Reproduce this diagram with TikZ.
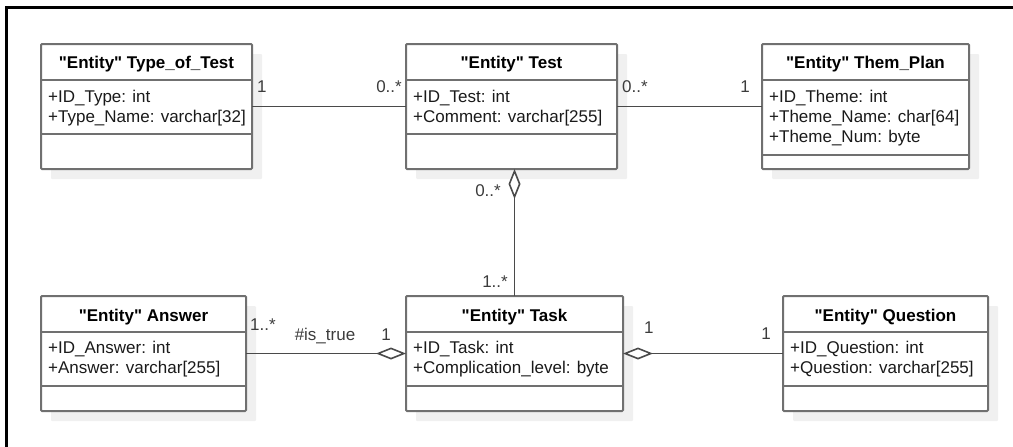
\documentclass[tikz,border=0pt]{standalone}
\usepackage{fontspec}
\newfontfamily\lsans{Liberation Sans}
\usetikzlibrary{arrows.meta,shadows}
\definecolor{boxc}{HTML}{707070}
\definecolor{linec}{HTML}{4A4A4A}
\definecolor{txtc}{HTML}{1A1A1A}
\definecolor{shc}{HTML}{F0F0F0}
\tikzset{
  cls/.style={draw=boxc, line width=2pt, fill=white, rectangle, rounded corners=1pt,
    anchor=north west, inner sep=0pt, outer sep=0pt,
    drop shadow={shadow xshift=10pt, shadow yshift=-10pt, fill=shc, opacity=1}},
  divl/.style={draw=boxc, line width=2pt},
  hdr/.style={anchor=base, inner sep=0pt, font=\lsans\fontsize{17}{20}\selectfont\bfseries, text=black},
  attr/.style={anchor=base west, inner sep=0pt, font=\lsans\fontsize{17}{20}\selectfont, text=txtc},
  mult/.style={inner sep=0pt, font=\lsans\fontsize{17}{20}\selectfont, text=txtc!85!white},
  assoc/.style={draw=linec, line width=1.6pt},
  aggtip/.tip={Diamond[open, length=30pt, width=12pt, fill=white]}
}
\begin{document}
\begin{tikzpicture}[x=1pt, y=-1pt]
\useasboundingbox (0,0) rectangle (1013,447);
% frame (top and left edges)
\draw[line width=3pt, black] (6,449) -- (6,7) -- (1015,7);

% Type_of_Test
\node[cls, minimum width=211pt, minimum height=125pt] (tot) at (41,44) {};
\draw[divl] (tot.west |- 0,79.5) -- (tot.east |- 0,79.5);
\draw[divl] (tot.west |- 0,134) -- (tot.east |- 0,134);
\node[hdr] (toth) at (146.5,68) {"Entity" Type\_of\_Test};
\node[attr] (tota1) at (48,102) {+ID\_Type: int};
\node[attr] (tota2) at (48,122) {+Type\_Name: varchar[32]};

% Test
\node[cls, minimum width=211pt, minimum height=125pt] (test) at (406,44) {};
\draw[divl] (test.west |- 0,79.5) -- (test.east |- 0,79.5);
\draw[divl] (test.west |- 0,134) -- (test.east |- 0,134);
\node[hdr] (testh) at (511.5,68) {"Entity" Test};
\node[attr] (testa1) at (413,102) {+ID\_Test: int};
\node[attr] (testa2) at (413,122) {+Comment: varchar[255]};

% Them_Plan
\node[cls, minimum width=207pt, minimum height=125pt] (them) at (762,44) {};
\draw[divl] (them.west |- 0,79.5) -- (them.east |- 0,79.5);
\draw[divl] (them.west |- 0,155) -- (them.east |- 0,155);
\node[hdr] (themh) at (865.5,68) {"Entity" Them\_Plan};
\node[attr] (thema1) at (769,102) {+ID\_Theme: int};
\node[attr] (thema2) at (769,122) {+Theme\_Name: char[64]};
\node[attr] (thema3) at (769,142) {+Theme\_Num: byte};

% Answer
\node[cls, minimum width=205pt, minimum height=115pt] (ans) at (41,296) {};
\draw[divl] (ans.west |- 0,332) -- (ans.east |- 0,332);
\draw[divl] (ans.west |- 0,386) -- (ans.east |- 0,386);
\node[hdr] (ansh) at (143.5,321) {"Entity" Answer};
\node[attr] (ansa1) at (48,353) {+ID\_Answer: int};
\node[attr] (ansa2) at (48,373) {+Answer: varchar[255]};

% Task
\node[cls, minimum width=217pt, minimum height=115pt] (task) at (406,296) {};
\draw[divl] (task.west |- 0,332) -- (task.east |- 0,332);
\draw[divl] (task.west |- 0,386) -- (task.east |- 0,386);
\node[hdr] (taskh) at (514.5,321) {"Entity" Task};
\node[attr] (taska1) at (413,353) {+ID\_Task: int};
\node[attr] (taska2) at (413,373) {+Complication\_level: byte};

% Question
\node[cls, minimum width=205pt, minimum height=115pt] (q) at (783,296) {};
\draw[divl] (q.west |- 0,332) -- (q.east |- 0,332);
\draw[divl] (q.west |- 0,386) -- (q.east |- 0,386);
\node[hdr] (qh) at (885.5,321) {"Entity" Question};
\node[attr] (qa1) at (790,353) {+ID\_Question: int};
\node[attr] (qa2) at (790,373) {+Question: varchar[255]};

% connectors
\draw[assoc] (tot.east) -- (test.west);
\draw[assoc] (test.east) -- (them.west);
\draw[assoc, -aggtip] (task.north) -- (task.north |- test.south);
\draw[assoc, -aggtip] (ans.east) -- (task.west);
\draw[assoc, aggtip-] (task.east) -- (q.west);

% multiplicities
\node[mult, anchor=base west] (m1) at (257,92) {1};
\node[mult, anchor=base east] (m2) at (402,92) {0..*};
\node[mult, anchor=base west] (m3) at (622,92) {0..*};
\node[mult, anchor=base east] (m4) at (750,92) {1};
\node[mult, anchor=base east] (m5) at (501,196) {0..*};
\node[mult, anchor=base east] (m6) at (508,287) {1..*};
\node[mult, anchor=base west] (m7) at (250,330) {1..*};
\node[mult, anchor=base] (m8) at (325,340) {\#is\_true};
\node[mult, anchor=base east] (m9) at (391,340) {1};
\node[mult, anchor=base west] (m10) at (644,333) {1};
\node[mult, anchor=base east] (m11) at (771,339) {1};
\end{tikzpicture}
\end{document}
